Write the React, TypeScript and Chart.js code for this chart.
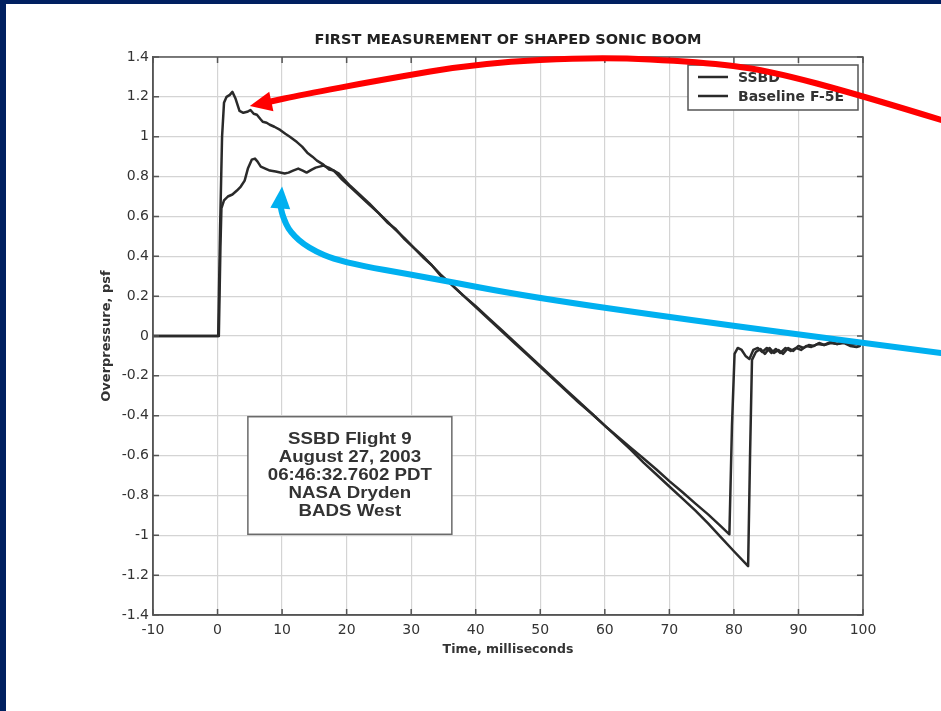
import React, { useEffect, useRef } from "react";
import { Chart, registerables } from "chart.js";

Chart.register(...registerables);

// ---------- text ----------
const chartTitle = "FIRST MEASUREMENT OF SHAPED SONIC BOOM";
const xAxisTitle = "Time, milliseconds";
const yAxisTitle = "Overpressure, psf";
const seriesLabels = ["SSBD", "Baseline F-5E"];
const infoLines = ["SSBD Flight 9", "August 27, 2003", "06:46:32.7602 PDT", "NASA Dryden", "BADS West"];

// ---------- ticks ----------
const xTickValues = [-10, 0, 10, 20, 30, 40, 50, 60, 70, 80, 90, 100];
const xTickLabels = ["-10", "0", "10", "20", "30", "40", "50", "60", "70", "80", "90", "100"];
const yTickValues = [-1.4, -1.2, -1, -0.8, -0.6, -0.4, -0.2, 0, 0.2, 0.4, 0.6, 0.8, 1, 1.2, 1.4];
const yTickLabels = ["-1.4", "-1.2", "-1", "-0.8", "-0.6", "-0.4", "-0.2", "0", "0.2", "0.4", "0.6", "0.8", "1", "1.2", "1.4"];

// ---------- series: SSBD ----------
const ssbdTime = [
  -10, 0.2, 0.45, 0.6, 1.0, 1.6, 2.3, 3.0, 3.6, 4.2,
  4.7, 5.3, 5.8, 6.2, 6.7, 7.4, 8.1, 9.0, 9.7, 10.4,
  11.0, 11.7, 12.5, 13.2, 13.8, 14.6, 15.2, 15.8, 16.4, 17.2,
  18.0, 18.8, 19.5, 20.5, 22, 23.5, 25, 26.3, 27.5, 29,
  30.5, 32, 33.2, 34.5, 36, 38, 40, 42, 44, 46,
  48, 50, 52, 54, 56, 58, 60, 62, 64, 66,
  68, 70, 72, 74, 76, 78, 79.3, 79.7, 80.1, 80.6,
  81.2, 81.8, 82.4, 83.0, 83.7, 84.4, 85.1, 85.8, 86.5, 87.2,
  88.0, 88.8, 89.6, 90.4, 91.2, 92.0, 93.0, 94.0, 95.0, 96.0,
  97.0, 98.0, 99.0, 99.5,
];
const ssbdValue = [
  0, 0, 0.45, 0.64, 0.68, 0.7, 0.71, 0.73, 0.75, 0.78,
  0.84, 0.885, 0.89, 0.875, 0.85, 0.84, 0.83, 0.825, 0.82, 0.815,
  0.82, 0.83, 0.84, 0.83, 0.82, 0.835, 0.845, 0.85, 0.855, 0.845,
  0.83, 0.815, 0.79, 0.755, 0.71, 0.665, 0.615, 0.575, 0.535, 0.49,
  0.44, 0.395, 0.355, 0.31, 0.265, 0.205, 0.145, 0.085, 0.025, -0.035,
  -0.095, -0.155, -0.215, -0.275, -0.335, -0.39, -0.45, -0.505, -0.56, -0.615,
  -0.67, -0.728, -0.783, -0.84, -0.895, -0.955, -0.995, -0.45, -0.09, -0.06,
  -0.07, -0.1, -0.115, -0.07, -0.06, -0.08, -0.06, -0.085, -0.065, -0.085,
  -0.06, -0.075, -0.06, -0.07, -0.05, -0.055, -0.04, -0.045, -0.035, -0.04,
  -0.03, -0.045, -0.04, -0.045,
];

// ---------- series: Baseline F-5E ----------
const baselineTime = [
  -10, 0.1, 0.4, 0.7, 1.0, 1.4, 1.9, 2.3, 2.8, 3.4,
  4.0, 4.6, 5.1, 5.6, 6.1, 6.6, 7.0, 7.6, 8.1, 8.8,
  9.7, 10.5, 11.2, 12.3, 13.1, 13.9, 14.7, 15.4, 16.4, 17.3,
  18.0, 18.6, 19.3, 20.5, 22, 23.5, 25, 26.3, 27.5, 29,
  30.5, 32, 33.2, 34.5, 36, 38, 40, 42, 44, 46,
  48, 50, 52, 54, 56, 58, 60, 62, 64, 66,
  68, 70, 72, 74, 76, 78, 80, 82.2, 82.5, 82.8,
  83.4, 84.1, 84.8, 85.5, 86.2, 86.9, 87.6, 88.4, 89.2, 90.0,
  90.8, 91.6, 92.4, 93.2, 94.0, 95.0, 96.0, 97.0, 98.0, 99.0,
  99.5,
];
const baselineValue = [
  0, 0, 0.55, 1.0, 1.17, 1.2, 1.21, 1.225, 1.19, 1.13,
  1.12, 1.125, 1.134, 1.115, 1.11, 1.09, 1.075, 1.07, 1.06, 1.05,
  1.034, 1.015, 1.0, 0.973, 0.95, 0.92, 0.9, 0.88, 0.86, 0.835,
  0.83, 0.81, 0.785, 0.75, 0.705, 0.66, 0.615, 0.57, 0.54, 0.485,
  0.44, 0.39, 0.355, 0.305, 0.265, 0.205, 0.15, 0.09, 0.03, -0.03,
  -0.09, -0.15, -0.21, -0.27, -0.33, -0.39, -0.45, -0.51, -0.57, -0.635,
  -0.695, -0.755, -0.815, -0.875, -0.94, -1.01, -1.08, -1.155, -0.6, -0.12,
  -0.08, -0.065, -0.09, -0.06, -0.085, -0.07, -0.09, -0.06, -0.075, -0.05,
  -0.06, -0.045, -0.05, -0.035, -0.045, -0.03, -0.04, -0.035, -0.05, -0.055,
  -0.05,
];

// ---------- annotation box & arrows (data coordinates) ----------
const infoBoxX = [4.7, 36.3];
const infoBoxY = [-0.405, -0.995];
const redArrowX = [112.1, 100.6, 85.1, 74.7, 59.3, 40.7, 25.2, 12.8, 7.9];
const redArrowY = [1.084, 1.199, 1.335, 1.375, 1.4, 1.37, 1.284, 1.209, 1.174];
const redArrowTip = [5.0, 1.154];
const blueArrowX = [112.1, 100, 73.2, 48.4, 32.9, 19.0, 14.0, 11.2, 10.1, 9.75];
const blueArrowY = [-0.085, -0.035, 0.08, 0.196, 0.291, 0.371, 0.442, 0.522, 0.6, 0.652];
const blueArrowTip = [10.0, 0.75];

const LINE_COLOR = "#2a2a2a";
const FRAME_COLOR = "#555555";
const TEXT_COLOR = "#333333";
const FONT = "'DejaVu Sans', sans-serif";

function drawArrow(chart: any, xs: number[], ys: number[], tip: number[], color: string) {
  const { ctx, scales } = chart;
  const sx = scales.x, sy = scales.y;
  const pts = xs.map((x, i) => ({ x: sx.getPixelForValue(x), y: sy.getPixelForValue(ys[i]) }));
  const t = { x: sx.getPixelForValue(tip[0]), y: sy.getPixelForValue(tip[1]) };
  ctx.save();
  ctx.strokeStyle = color;
  ctx.fillStyle = color;
  ctx.lineWidth = 6;
  ctx.lineCap = "round";
  ctx.lineJoin = "round";
  ctx.beginPath();
  ctx.moveTo(pts[0].x, pts[0].y);
  for (let i = 1; i < pts.length - 1; i++) {
    const mx = (pts[i].x + pts[i + 1].x) / 2;
    const my = (pts[i].y + pts[i + 1].y) / 2;
    ctx.quadraticCurveTo(pts[i].x, pts[i].y, mx, my);
  }
  const last = pts[pts.length - 1];
  ctx.lineTo(last.x, last.y);
  ctx.stroke();
  const dx = t.x - last.x, dy = t.y - last.y;
  const len = Math.hypot(dx, dy) || 1;
  const ux = dx / len, uy = dy / len;
  const hl = 22, hw = 10;
  const bx = t.x - ux * hl, by = t.y - uy * hl;
  ctx.beginPath();
  ctx.moveTo(t.x, t.y);
  ctx.lineTo(bx - uy * hw, by + ux * hw);
  ctx.lineTo(bx + uy * hw, by - ux * hw);
  ctx.closePath();
  ctx.fill();
  ctx.restore();
}

const decorPlugin = {
  id: "decor",
  beforeDraw(chart: any) {
    const { ctx, width, height, chartArea: a } = chart;
    ctx.save();
    ctx.fillStyle = "#002060";
    ctx.fillRect(0, 0, width, height);
    ctx.fillStyle = "#ffffff";
    ctx.fillRect(6, 4, width - 6, height - 4);
    // title centred over the plot area
    ctx.fillStyle = "#222222";
    ctx.font = `bold 14.5px ${FONT}`;
    ctx.textAlign = "center";
    ctx.textBaseline = "middle";
    ctx.fillText(chartTitle, (a.left + a.right) / 2, a.top - 17);
    ctx.restore();
  },
  afterDatasetsDraw(chart: any) {
    const { ctx, chartArea: a, scales } = chart;
    const sx = scales.x, sy = scales.y;
    ctx.save();
    ctx.strokeStyle = FRAME_COLOR;
    ctx.lineWidth = 1.5;
    ctx.strokeRect(a.left, a.top, a.right - a.left, a.bottom - a.top);
    ctx.beginPath();
    const tk = 6;
    yTickValues.forEach((v) => {
      const y = sy.getPixelForValue(v);
      ctx.moveTo(a.left, y); ctx.lineTo(a.left + tk, y);
      ctx.moveTo(a.right, y); ctx.lineTo(a.right - tk, y);
    });
    xTickValues.forEach((v) => {
      const x = sx.getPixelForValue(v);
      ctx.moveTo(x, a.bottom); ctx.lineTo(x, a.bottom - tk);
      ctx.moveTo(x, a.top); ctx.lineTo(x, a.top + tk);
    });
    ctx.stroke();

    // info box
    const bl = sx.getPixelForValue(infoBoxX[0]);
    const br = sx.getPixelForValue(infoBoxX[1]);
    const bt = sy.getPixelForValue(infoBoxY[0]);
    const bb = sy.getPixelForValue(infoBoxY[1]);
    ctx.fillStyle = "#ffffff";
    ctx.fillRect(bl, bt, br - bl, bb - bt);
    ctx.strokeStyle = "#6a6a6a";
    ctx.lineWidth = 1.5;
    ctx.strokeRect(bl, bt, br - bl, bb - bt);
    ctx.fillStyle = TEXT_COLOR;
    ctx.font = "bold 17px 'Liberation Sans', Arial, sans-serif";
    ctx.textAlign = "center";
    ctx.textBaseline = "middle";
    const cx = (bl + br) / 2;
    infoLines.forEach((line, i) => {
      ctx.save();
      ctx.translate(cx, bt + 23 + i * 18);
      ctx.scale(1.1, 1);
      ctx.fillText(line, 0, 0);
      ctx.restore();
    });

    // legend
    const lw = 170, lh = 45;
    const lx = a.right - 5 - lw, ly = a.top + 8;
    ctx.fillStyle = "#ffffff";
    ctx.fillRect(lx, ly, lw, lh);
    ctx.strokeStyle = "#555555";
    ctx.lineWidth = 1.5;
    ctx.strokeRect(lx, ly, lw, lh);
    ctx.font = `bold 14px ${FONT}`;
    ctx.textAlign = "left";
    ctx.textBaseline = "middle";
    chart.data.datasets.forEach((ds: any, i: number) => {
      const y = ly + 12 + i * 19;
      ctx.strokeStyle = ds.borderColor;
      ctx.lineWidth = 2.5;
      ctx.beginPath();
      ctx.moveTo(lx + 10, y);
      ctx.lineTo(lx + 40, y);
      ctx.stroke();
      ctx.fillStyle = TEXT_COLOR;
      ctx.fillText(ds.label, lx + 50, y + 1);
    });
    ctx.restore();
  },
  afterDraw(chart: any) {
    drawArrow(chart, redArrowX, redArrowY, redArrowTip, "#ff0000");
    drawArrow(chart, blueArrowX, blueArrowY, blueArrowTip, "#00b0f0");
  },
};

export default function App() {
  const ref = useRef<HTMLCanvasElement | null>(null);

  useEffect(() => {
    if (!ref.current) return;
    const chart = new Chart(ref.current, {
      type: "line",
      data: {
        datasets: [
          {
            label: seriesLabels[0],
            data: ssbdTime.map((t, i) => ({ x: t, y: ssbdValue[i] })),
            borderColor: LINE_COLOR,
            borderWidth: 2.5,
            pointRadius: 0,
            tension: 0,
            fill: false,
            borderJoinStyle: "round",
            borderCapStyle: "round",
          },
          {
            label: seriesLabels[1],
            data: baselineTime.map((t, i) => ({ x: t, y: baselineValue[i] })),
            borderColor: LINE_COLOR,
            borderWidth: 2.5,
            pointRadius: 0,
            tension: 0,
            fill: false,
            borderJoinStyle: "round",
            borderCapStyle: "round",
          },
        ],
      },
      options: {
        responsive: false,
        animation: false,
        devicePixelRatio: 1,
        layout: { padding: { left: 0, right: 78, top: 57, bottom: 0 } },
        plugins: {
          legend: { display: false },
          tooltip: { enabled: false },
          title: { display: false },
        },
        scales: {
          x: {
            type: "linear",
            min: xTickValues[0],
            max: xTickValues[xTickValues.length - 1],
            afterFit(scale: any) { scale.height = 96; },
            afterBuildTicks(scale: any) { scale.ticks = xTickValues.map((v) => ({ value: v })); },
            ticks: {
              callback: (_v: any, i: number) => xTickLabels[i],
              color: TEXT_COLOR,
              font: { family: FONT, size: 14 },
              padding: 7,
              maxRotation: 0,
            },
            grid: { color: "#d4d4d4", lineWidth: 1.2, drawTicks: false },
            border: { display: true, color: FRAME_COLOR, width: 1.5 },
            title: {
              display: true,
              text: xAxisTitle,
              color: TEXT_COLOR,
              font: { family: FONT, size: 12.5, weight: "bold" },
              padding: { top: 0, bottom: 53.5 },
            },
          },
          y: {
            type: "linear",
            min: yTickValues[0],
            max: yTickValues[yTickValues.length - 1],
            afterFit(scale: any) { scale.width = 153; },
            afterBuildTicks(scale: any) { scale.ticks = yTickValues.map((v) => ({ value: v })); },
            ticks: {
              callback: (_v: any, i: number) => yTickLabels[i],
              color: TEXT_COLOR,
              font: { family: FONT, size: 14 },
              padding: 4,
            },
            grid: { color: "#d4d4d4", lineWidth: 1.2, drawTicks: false },
            border: { display: true, color: FRAME_COLOR, width: 1.5 },
            title: {
              display: true,
              text: yAxisTitle,
              color: TEXT_COLOR,
              font: { family: FONT, size: 13, weight: "bold" },
              padding: { top: 99, bottom: 0 },
            },
          },
        },
      },
      plugins: [decorPlugin],
    } as any);
    return () => chart.destroy();
  }, []);

  return (
    <div style={{ position: "fixed", left: 0, top: 0, width: 941, height: 711 }}>
      <canvas ref={ref} width={941} height={711} style={{ display: "block", width: 941, height: 711 }} />
    </div>
  );
}
